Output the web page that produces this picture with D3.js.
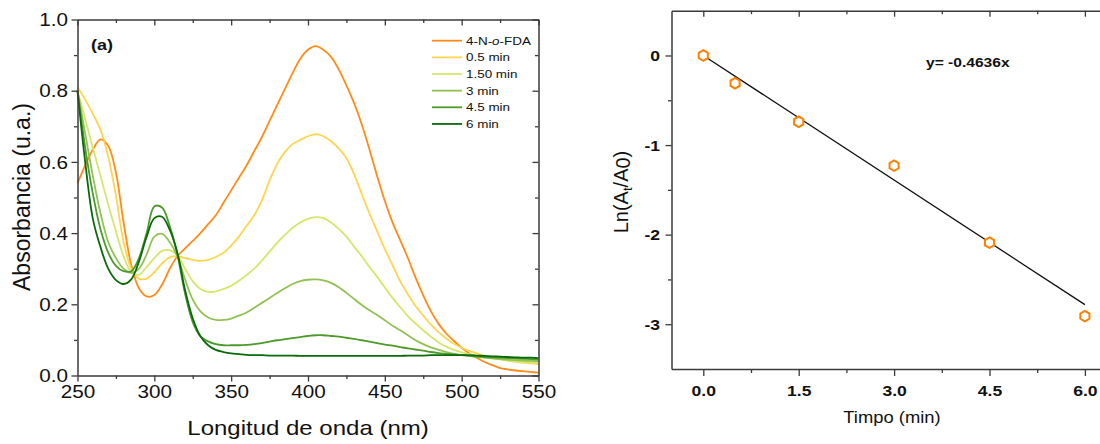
<!DOCTYPE html>
<html><head><meta charset="utf-8">
<script src="https://cdn.jsdelivr.net/npm/d3@7"></script>
<style>
body{margin:0;background:#fff}
text{font-family:"Liberation Sans",Arial,sans-serif;fill:#111}
</style>
</head><body>
<svg id="c" width="1100" height="444"></svg>
<script>
// ---------------- DATA ----------------
const wavelengths = [250,255,260,265,270,275,280,285,290,295,300,305,310,315,320,325,330,335,340,345,
  350,355,360,365,370,375,380,385,390,395,400,405,410,415,420,425,430,435,440,445,
  450,455,460,465,470,475,480,485,490,495,500,505,510,515,520,525,530,535,540,545,550];

const seriesNames = ["4-N-o-FDA","0.5 min","1.50 min","3 min","4.5 min","6 min"];

const absFDA = [.54,.59,.635,.663,.645,.57,.43,.31,.245,.222,.226,.255,.30,.335,.357,.378,.40,.425,.45,.485,
  .52,.555,.59,.63,.67,.715,.76,.805,.85,.89,.915,.925,.915,.895,.86,.815,.765,.705,.635,.56,
  .49,.43,.38,.33,.275,.225,.18,.145,.118,.097,.078,.062,.049,.038,.029,.021,.017,.014,.012,.01,.008];
const abs05 = [.81,.775,.735,.69,.615,.505,.375,.30,.272,.272,.29,.315,.332,.335,.33,.325,.322,.325,.333,.345,
  .365,.39,.42,.45,.492,.548,.595,.628,.65,.662,.672,.678,.672,.658,.638,.61,.565,.51,.455,.405,
  .355,.31,.265,.228,.195,.168,.143,.122,.104,.089,.078,.069,.062,.055,.05,.046,.042,.039,.036,.034,.032];
const abs150 = [.80,.72,.64,.56,.48,.405,.335,.29,.283,.305,.33,.35,.352,.338,.30,.265,.243,.235,.236,.243,
  .252,.266,.282,.30,.323,.348,.373,.395,.415,.43,.44,.445,.442,.43,.412,.39,.362,.335,.305,.277,
  .247,.218,.192,.167,.146,.127,.109,.093,.081,.072,.065,.06,.055,.051,.048,.045,.042,.04,.038,.036,.035];
const abs3 = [.80,.68,.56,.455,.375,.33,.30,.288,.30,.34,.39,.398,.375,.335,.27,.213,.18,.163,.156,.156,
  .16,.168,.177,.19,.204,.218,.232,.245,.257,.265,.269,.27,.267,.26,.248,.232,.215,.198,.183,.17,
  .155,.14,.127,.113,.099,.088,.079,.072,.066,.061,.058,.055,.052,.05,.048,.046,.045,.043,.042,.041,.04];
const abs45 = [.80,.64,.51,.41,.345,.308,.293,.293,.33,.40,.475,.472,.42,.34,.23,.15,.11,.096,.088,.085,
  .085,.085,.086,.088,.091,.095,.099,.102,.105,.108,.111,.113,.113,.111,.109,.106,.103,.099,.095,.091,
  .087,.084,.08,.076,.073,.07,.066,.063,.061,.059,.057,.055,.054,.052,.051,.05,.049,.048,.047,.046,.045];
const abs6 = [.80,.60,.44,.36,.30,.268,.257,.27,.32,.39,.442,.446,.41,.345,.24,.16,.11,.085,.072,.066,
  .062,.06,.058,.057,.057,.056,.056,.056,.056,.055,.055,.055,.055,.055,.055,.055,.055,.055,.055,.055,
  .055,.055,.055,.056,.056,.056,.057,.057,.057,.057,.057,.057,.056,.055,.054,.053,.052,.051,.05,.05,.049];

const seriesColors = ["#ff8c1a","#ffd550","#d6e66a","#92c253","#4c9a2a","#0a6a0a"];

const leftXTicks = [250,300,350,400,450,500,550];
const leftXMinor = [275,325,375,425,475,525];
const leftYTicks = [0,0.2,0.4,0.6,0.8,1.0];
const leftYMinor = [0.1,0.3,0.5,0.7,0.9];

const times = [0,0.5,1.5,3.0,4.5,6.0];
const lnRatio = [0,-0.31,-0.74,-1.23,-2.09,-2.91];
const fitSlope = -0.4636;
const fitRange = [0,6];
const rightXTicks = [0,1.5,3.0,4.5,6.0];
const rightXMinor = [0.75,2.25,3.75,5.25];
const rightYTicks = [0,-1,-2,-3];
const rightYMinor = [-0.5,-1.5,-2.5];

// ---------------- DRAW ----------------
const svg = d3.select("#c");
const AX = "#3a3a3a";
const SX = 1.15; // horizontal stretch of text

function styleAxis(g){
  g.selectAll("path.domain").attr("stroke",AX).attr("stroke-width",1.5);
  g.selectAll(".tick line").attr("stroke",AX).attr("stroke-width",1.3);
}

// ===== Left panel =====
const xL = d3.scaleLinear().domain([250,550]).range([77.5,538.5]);
const yL = d3.scaleLinear().domain([0,1]).range([375.5,19.5]);
const gL = svg.append("g");

const series = [absFDA,abs05,abs150,abs3,abs45,abs6];
const line = d3.line().x(d=>xL(d[0])).y(d=>yL(d[1])).curve(d3.curveCatmullRom.alpha(0.5));
series.forEach((vals,i)=>{
  gL.append("path").datum(wavelengths.map((w,j)=>[w,vals[j]]))
    .attr("d",line).attr("fill","none").attr("stroke",seriesColors[i]).attr("stroke-width",1.8);
});

// axes
const bx = gL.append("g").attr("transform","translate(0,375.5)")
  .call(d3.axisBottom(xL).tickValues(leftXTicks).tickSize(6).tickSizeOuter(0).tickFormat(d3.format("d")));
bx.selectAll("text").attr("font-size",18).attr("y",22.5).attr("dy",0).attr("fill","#111")
  .attr("transform",`scale(${SX},1)`);
gL.append("g").attr("transform","translate(0,375.5)")
  .call(d3.axisBottom(xL).tickValues(leftXMinor).tickSize(3.5).tickFormat("")).select(".domain").remove();
gL.append("g").attr("transform","translate(0,19.5)")
  .call(d3.axisBottom(xL).tickValues(leftXTicks).tickSize(6).tickSizeOuter(0).tickFormat(""));
gL.append("g").attr("transform","translate(0,19.5)")
  .call(d3.axisBottom(xL).tickValues(leftXMinor).tickSize(3.5).tickFormat("")).select(".domain").remove();
const ly = gL.append("g").attr("transform","translate(77.5,0)")
  .call(d3.axisLeft(yL).tickValues(leftYTicks).tickSize(6).tickSizeOuter(0).tickFormat(d3.format(".1f")));
ly.selectAll("text").attr("font-size",18).attr("x",-9.5/SX).attr("dy","0.34em").attr("fill","#111")
  .attr("transform",`scale(${SX},1)`);
gL.append("g").attr("transform","translate(77.5,0)")
  .call(d3.axisLeft(yL).tickValues(leftYMinor).tickSize(3.5).tickFormat("")).select(".domain").remove();
gL.append("g").attr("transform","translate(538.5,0)")
  .call(d3.axisLeft(yL).tickValues(leftYTicks).tickSize(6).tickSizeOuter(0).tickFormat(""));
gL.append("g").attr("transform","translate(538.5,0)")
  .call(d3.axisLeft(yL).tickValues(leftYMinor).tickSize(3.5).tickFormat("")).select(".domain").remove();
gL.selectAll("g").each(function(){styleAxis(d3.select(this));});

// labels
gL.append("text").attr("transform",`translate(308,435) scale(1.2,1)`).attr("text-anchor","middle")
  .attr("font-size",20).text("Longitud de onda (nm)");
gL.append("text").attr("transform","translate(30,197) rotate(-90)").attr("text-anchor","middle")
  .attr("font-size",23).text("Absorbancia (u.a.)");
gL.append("text").attr("transform",`translate(91,50) scale(1.16,1)`).attr("font-size",15.5)
  .attr("font-weight","bold").text("(a)");

// legend
const leg = gL.append("g");
seriesNames.forEach((name,i)=>{
  const yy = 40.7 + i*16.65;
  leg.append("line").attr("x1",432).attr("x2",462).attr("y1",yy).attr("y2",yy)
    .attr("stroke",seriesColors[i]).attr("stroke-width",1.8);
  const t = leg.append("text").attr("transform",`translate(466,${yy+4}) scale(1.2,1)`).attr("font-size",11.2);
  if (name.includes("-o-")) {
    const parts = name.split("-o-");
    t.append("tspan").text(parts[0]+"-");
    t.append("tspan").attr("font-style","italic").text("o");
    t.append("tspan").text("-"+parts[1]);
  } else t.text(name);
});

// ===== Right panel =====
const xR = d3.scaleLinear().domain([-0.5,6.5]).range([671.5,1116.7]);
const yR = d3.scaleLinear().domain([-3.5,0.5]).range([369,10.7]);
const gR = svg.append("g");

const rb = gR.append("g").attr("transform","translate(0,369)")
  .call(d3.axisBottom(xR).tickValues(rightXTicks).tickSize(7).tickSizeOuter(0).tickFormat(d3.format(".1f")));
rb.selectAll("text").attr("font-size",15).attr("font-weight","bold").attr("y",26.7).attr("dy",0)
  .attr("fill","#111").attr("transform",`scale(1.17,1)`);
gR.append("g").attr("transform","translate(0,369)")
  .call(d3.axisBottom(xR).tickValues(rightXMinor).tickSize(4).tickFormat("")).select(".domain").remove();
gR.append("g").attr("transform","translate(0,10.7)")
  .call(d3.axisBottom(xR).tickValues(rightXTicks).tickSize(6).tickSizeOuter(0).tickFormat(""));
gR.append("g").attr("transform","translate(0,10.7)")
  .call(d3.axisBottom(xR).tickValues(rightXMinor).tickSize(3.5).tickFormat("")).select(".domain").remove();
const rl = gR.append("g").attr("transform","translate(671.5,0)")
  .call(d3.axisLeft(yR).tickValues(rightYTicks).tickSize(6).tickSizeOuter(0).tickFormat(d3.format("d")));
rl.selectAll("text").attr("font-size",15).attr("font-weight","bold").attr("x",-11.5/1.17).attr("dy","0.35em")
  .attr("fill","#111").attr("transform","scale(1.17,1)").text(d=>String(d));
gR.append("g").attr("transform","translate(671.5,0)")
  .call(d3.axisLeft(yR).tickValues(rightYMinor).tickSize(3.5).tickFormat("")).select(".domain").remove();
gR.selectAll("g").each(function(){styleAxis(d3.select(this));});

// fit line
gR.append("line").attr("x1",xR(fitRange[0])).attr("y1",yR(fitSlope*fitRange[0]))
  .attr("x2",xR(fitRange[1])).attr("y2",yR(fitSlope*fitRange[1]))
  .attr("stroke","#111").attr("stroke-width",1.3);

// hexagon markers
const hexagon = {draw(ctx,size){
  const r = Math.sqrt(size/2.598);
  for(let k=0;k<6;k++){
    const a = Math.PI/2 + k*Math.PI/3;
    const px = r*Math.cos(a), py = r*Math.sin(a);
    if(k===0) ctx.moveTo(px,py); else ctx.lineTo(px,py);
  }
  ctx.closePath();
}};
gR.selectAll("path.pt").data(times.map((t,i)=>[t,lnRatio[i]])).join("path").attr("class","pt")
  .attr("transform",d=>`translate(${xR(d[0])},${yR(d[1])})`)
  .attr("d",d3.symbol().type(hexagon).size(72))
  .attr("fill","#fff").attr("stroke","#ff8000").attr("stroke-width",2);

// labels
gR.append("text").attr("transform",`translate(926,67) scale(1.2,1)`).attr("font-size",13)
  .attr("font-weight","bold").text("y= -0.4636x");
gR.append("text").attr("transform",`translate(892,423) scale(1.15,1)`).attr("text-anchor","middle")
  .attr("font-size",16).text("Timpo (min)");
const yl = gR.append("text").attr("transform","translate(628,192) rotate(-90)").attr("text-anchor","middle")
  .attr("font-size",20);
yl.append("tspan").text("Ln(A");
yl.append("tspan").attr("font-size",13).attr("dy",4).text("t");
yl.append("tspan").attr("dy",-4).text("/A");
yl.append("tspan").attr("dy",2).text("0");
yl.append("tspan").attr("dy",-2).text(")");
</script>
</body></html>
